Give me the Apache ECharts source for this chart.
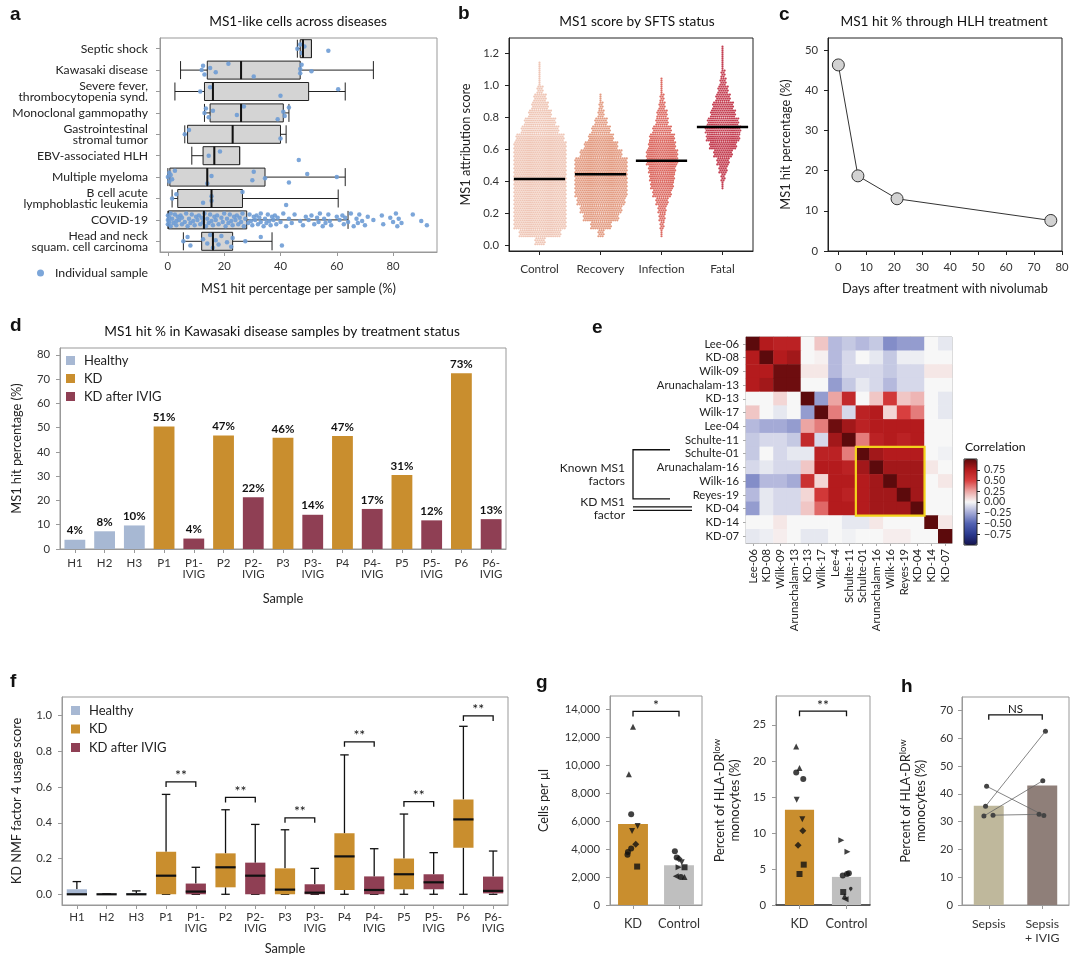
<!DOCTYPE html>
<html>
<head>
<meta charset="utf-8">
<script src="https://cdn.jsdelivr.net/npm/echarts@6/dist/echarts.min.js"></script>
<style>
html, body { margin: 0; background: #fff; }
#main { width: 1080px; height: 954px; }
</style>
</head>
<body>
<div id="main"></div>
<script>
// ---- panel a: MS1-like cells across diseases
const aDiseases = ['Septic shock', 'Kawasaki disease', 'Severe fever,\nthrombocytopenia synd.', 'Monoclonal gammopathy',
  'Gastrointestinal\nstromal tumor', 'EBV-associated HLH', 'Multiple myeloma', 'B cell acute\nlymphoblastic leukemia',
  'COVID-19', 'Head and neck\nsquam. cell carcinoma'];
// [low whisker, Q1, median, Q3, high whisker]
const aBoxes = [[46, 47, 48, 51, 51], [4.5, 14, 26, 47, 73], [2.5, 13, 16, 50, 63], [13, 15, 26, 41, 43],
  [6, 7, 23, 40, 42], [8.5, 12.5, 16.5, 25.5, 25.5], [0, 0.7, 14, 34.5, 63], [1.5, 3.5, 15.5, 26.5, 60.5],
  [0, 0.2, 12.8, 28, 64], [5.5, 12, 16, 23, 37]];
const aPoints = [
  [46, 47, 47.5, 48.5, 57],
  [12, 12.5, 13, 15, 17, 21.5, 30.5, 47, 47, 47.5, 51],
  [11.5, 15, 40, 60.5],
  [13, 13.5, 14.5, 16, 24.5, 27, 39, 41, 41.5, 43],
  [6, 7.5, 40],
  [14.5, 18.5, 46.5],
  [0, 0.5, 0.5, 1, 1.5, 2.5, 14, 15.5, 30, 30.5, 34.5, 43, 49.5, 60],
  [1.5, 3, 12.5, 15.5, 15.5, 26.5, 42],
  [0, 0, 0, 0.5, 0.5, 1, 1, 1.5, 2, 2.5, 3, 3, 3.5, 4, 4.5, 5, 5, 6, 6.5, 7, 7.5, 8, 8.5, 9, 9.5, 10, 10.5, 11,
   11.5, 12, 12.5, 13, 13.5, 14, 14.5, 15, 15.5, 16, 16.5, 17, 17.5, 18, 19, 19.5, 20, 20.5, 21, 21.5, 22, 22.5,
   23, 23.5, 24, 24.5, 25, 25.5, 26, 26.5, 27, 27.5, 28.5, 29, 29.5, 30, 30.5, 31, 31.5, 32, 32.5, 33, 33, 34,
   34.5, 35, 35.5, 36, 36.5, 37, 37.5, 38, 38.5, 39, 40, 41, 42, 43, 44, 45, 47, 48, 49, 50, 51, 52, 53, 53.5,
   54, 55, 55.5, 56, 57, 57.5, 58, 60, 61, 62, 62.5, 63, 64, 65, 66, 67, 67.5, 68, 69, 70, 71, 73, 76, 76.5, 79,
   80, 81, 81.5, 82, 83, 87, 90, 92],
  [5.5, 7, 8, 12.5, 14, 15, 16, 17, 18, 19, 21, 22.5, 23, 27.5, 33, 40.5]
];
const aJitter = [0, -0.2, 0.2, -0.1, 0.1, -0.3, 0.3, -0.05, 0.15, -0.25, 0.05, 0.25, -0.15];

// ---- panel b: MS1 score by SFTS status (dots per row in 0.05 bins starting at 0)
const bGroups = ['Control', 'Recovery', 'Infection', 'Fatal'];
const bBin = 0.05;
const bControl = [5, 20, 25, 25, 25, 25, 25, 25, 25, 25, 25, 25, 25, 23, 18, 15, 11, 8, 6, 3, 1, 1, 1];
const bRecovery = [0, 3, 10, 17, 20, 23, 25, 25, 25, 25, 25, 20, 16, 12, 9, 6, 3, 2, 1];
const bInfection = [0, 1, 2, 3, 4, 6, 9, 11, 12, 13, 15, 15, 13, 12, 9, 6, 5, 3, 2, 1, 1];
const bFatal = [0, 0, 0, 0, 0, 0, 0, 1, 2, 4, 6, 9, 13, 16, 17, 15, 12, 10, 7, 5, 3, 2, 1, 1, 1];
const bMedians = [0.415, 0.445, 0.53, 0.74];

// ---- panel c: MS1 hit % through HLH treatment
const cDays = [0, 7, 21, 76];
const cPct = [46.3, 18.7, 13, 7.6];

// ---- panel d / f: Kawasaki samples
const samples = ['H1', 'H2', 'H3', 'P1', 'P1-\nIVIG', 'P2', 'P2-\nIVIG', 'P3', 'P3-\nIVIG', 'P4', 'P4-\nIVIG',
  'P5', 'P5-\nIVIG', 'P6', 'P6-\nIVIG'];
const groupNames = ['Healthy', 'KD', 'KD after IVIG'];
const sampleGroup = [0, 0, 0, 1, 2, 1, 2, 1, 2, 1, 2, 1, 2, 1, 2];
const dValues = [3.8, 7.3, 9.7, 50.5, 4.3, 46.8, 21.3, 45.8, 14.1, 46.6, 16.5, 30.5, 11.8, 72.4, 12.3];
const dLabels = ['4%', '8%', '10%', '51%', '4%', '47%', '22%', '46%', '14%', '47%', '17%', '31%', '12%', '73%', '13%'];
const fBoxes = [[0, 0, 0, 0.028, 0.071], [0, 0, 0, 0.003, 0.003], [0, 0, 0, 0.006, 0.019],
  [0, 0, 0.104, 0.238, 0.559], [0, 0, 0.015, 0.06, 0.151], [0, 0.039, 0.151, 0.229, 0.473],
  [0, 0, 0.104, 0.177, 0.391], [0, 0, 0.026, 0.145, 0.361], [0, 0, 0.009, 0.056, 0.145],
  [0, 0.024, 0.212, 0.341, 0.78], [0, 0, 0.024, 0.1, 0.255], [0, 0.028, 0.112, 0.2, 0.449],
  [0, 0.028, 0.067, 0.112, 0.233], [0, 0.261, 0.419, 0.531, 0.94], [0, 0.005, 0.019, 0.099, 0.242]];
// [from sample, to sample, bracket height]
const fSig = [[3, 4, 0.629], [5, 6, 0.542], [7, 8, 0.428], [9, 10, 0.853], [11, 12, 0.518], [13, 14, 0.998]];

// ---- panel e: factor correlation
const eRows = ['Lee-06', 'KD-08', 'Wilk-09', 'Arunachalam-13', 'KD-13', 'Wilk-17', 'Lee-04', 'Schulte-11',
  'Schulte-01', 'Arunachalam-16', 'Wilk-16', 'Reyes-19', 'KD-04', 'KD-14', 'KD-07'];
const eCols = ['Lee-06', 'KD-08', 'Wilk-09', 'Arunachalam-13', 'KD-13', 'Wilk-17', 'Lee-4', 'Schulte-11',
  'Schulte-01', 'Arunachalam-16', 'Wilk-16', 'Reyes-19', 'KD-04', 'KD-14', 'KD-07'];
const eCorr = [
  [1.0, 0.75, 0.7, 0.7, 0.0, 0.15, -0.2, -0.15, -0.2, -0.15, -0.35, -0.3, -0.3, 0.0, -0.05],
  [0.75, 1.0, 0.75, 0.8, 0.0, 0.02, -0.2, -0.1, 0.0, -0.05, -0.15, -0.03, -0.03, 0.0, 0.0],
  [0.75, 0.75, 0.95, 0.95, 0.05, 0.05, -0.2, -0.1, -0.1, -0.1, -0.15, -0.1, -0.1, 0.05, 0.05],
  [0.75, 0.8, 0.95, 0.95, 0.0, 0.0, -0.3, -0.15, -0.05, -0.1, -0.2, -0.1, -0.1, 0.0, 0.0],
  [0.0, 0.0, 0.1, 0.0, 1.0, -0.3, 0.25, 0.65, 0.0, 0.15, 0.55, 0.15, 0.2, 0.0, -0.05],
  [0.15, 0.0, -0.05, 0.0, -0.3, 1.0, 0.35, -0.1, 0.7, 0.75, 0.1, 0.5, 0.35, 0.0, -0.05],
  [-0.2, -0.25, -0.25, -0.3, 0.25, 0.35, 0.95, 0.8, 0.7, 0.75, 0.75, 0.75, 0.75, 0.0, 0.0],
  [-0.15, -0.1, -0.1, -0.15, 0.65, -0.1, 0.8, 1.0, 0.35, 0.7, 0.75, 0.7, 0.75, 0.0, 0.0],
  [-0.15, 0.0, -0.1, -0.05, -0.05, 0.7, 0.7, 0.35, 1.0, 0.8, 0.75, 0.75, 0.75, 0.0, -0.02],
  [-0.1, -0.05, -0.1, -0.1, 0.15, 0.75, 0.75, 0.7, 0.8, 1.0, 0.8, 0.8, 0.8, 0.05, 0.0],
  [-0.35, -0.2, -0.2, -0.25, 0.6, 0.1, 0.75, 0.75, 0.75, 0.8, 1.0, 0.8, 0.8, 0.0, 0.05],
  [-0.2, -0.05, -0.1, -0.1, 0.1, 0.55, 0.75, 0.7, 0.75, 0.8, 0.8, 1.0, 0.8, 0.0, 0.0],
  [-0.3, -0.05, -0.1, -0.1, 0.15, 0.4, 0.75, 0.75, 0.75, 0.8, 0.8, 0.8, 1.0, 0.0, 0.0],
  [0.0, 0.0, 0.05, 0.0, 0.0, 0.0, 0.0, -0.05, -0.05, 0.05, 0.0, 0.0, 0.0, 1.0, 0.05],
  [-0.05, -0.03, 0.03, 0.0, -0.05, -0.05, 0.0, -0.02, 0.0, 0.0, 0.03, 0.03, 0.0, 0.0, 1.0]
];
const eBoxRows = [8, 12];
const eCbTicks = [-0.75, -0.5, -0.25, 0, 0.25, 0.5, 0.75];

// ---- panel g: MDSC counts and HLA-DR low monocytes
const gCats = ['KD', 'Control'];
const gCellBars = [5800, 2850];
const gCellKD = [12750, 9350, 6500, 5650, 5300, 4350, 4050, 3800, 3600, 2750];
const gCellKDShape = ['▲', '▲', '●', '▼', '▼', '◆', '●', '●', '●', '■'];
const gCellKDOff = [0, -0.09, -0.04, 0.1, -0.02, 0.06, -0.04, -0.11, -0.12, 0.09];
const gCellCtl = [3850, 3400, 3300, 3050, 2700, 2700, 2050, 2000, 2000];
const gCellCtlShape = ['●', '●', '◆', '▼', '▶', '■', '◀', '●', '▲'];
const gCellCtlOff = [-0.09, -0.05, 0, 0.06, -0.01, 0.12, -0.07, 0.04, 0.12];
const gPctBars = [13.2, 3.9];
const gPctKD = [22, 19, 18.4, 17.5, 14.6, 11.9, 10.3, 8.3, 5.6, 4.3];
const gPctKDShape = ['▲', '▲', '●', '●', '▼', '▼', '◆', '◆', '■', '■'];
const gPctKDOff = [-0.07, 0, -0.07, 0.08, -0.06, 0.06, 0.07, -0.03, 0.09, 0];
const gPctCtl = [9, 7.4, 4.1, 4.3, 4.4, 1.8, 1.8, 1.2, 0.8];
const gPctCtlShape = ['▶', '▶', '●', '●', '●', '■', '✱', '▲', '◀'];
const gPctCtlOff = [-0.11, 0.02, -0.08, 0.01, 0.05, -0.07, 0.09, -0.04, -0.02];

// ---- panel h: sepsis +/- IVIG
const hCats = ['Sepsis', 'Sepsis\n+ IVIG'];
const hBars = [35.7, 43.0];
const hBefore = [42.7, 35.5, 32.0, 32.3];
const hAfter = [32.2, 62.5, 44.7, 32.6];
const hBeforeOff = [-0.04, -0.06, -0.09, 0.08];
const hAfterOff = [0.03, 0.06, 0.01, -0.06];

// ---------------------------------------------------------------
const FONT = 'Lato, "Noto Sans", sans-serif';
const C_HEALTHY = '#a7b8d3', C_KD = '#c98e2e', C_IVIG = '#8f3f54';
const groupColors = [C_HEALTHY, C_KD, C_IVIG];
const bColors = ['#efc6b6', '#e39b81', '#dc6961', '#c43e51'];
const TICK_FS = 11.3, NAME_FS = 12.8, TITLE_FS = 13.7, LEG_FS = 13;

const grid = [], xAxis = [], yAxis = [], series = [], title = [], legend = [];

function mix(base, extra) {
  const o = Object.assign({}, base);
  for (const k in extra) {
    const v = extra[k];
    if (v && typeof v === 'object' && !Array.isArray(v) && base[k] && typeof base[k] === 'object') {
      o[k] = Object.assign({}, base[k], v);
    } else {
      o[k] = v;
    }
  }
  return o;
}
function addGrid(left, top, width, height, border) {
  grid.push({ left, top, width, height, show: true, borderColor: border, borderWidth: 1,
    backgroundColor: 'transparent', containLabel: false, outerBoundsMode: 'none' });
  return grid.length - 1;
}
function axisBase(gi, type, color) {
  return {
    gridIndex: gi, type,
    axisLine: { show: true, onZero: false, lineStyle: { color, width: 1 } },
    axisTick: { show: true, length: 4, lineStyle: { color } },
    axisLabel: { color: '#333', fontSize: TICK_FS, fontFamily: FONT, hideOverlap: false },
    splitLine: { show: false },
    nameLocation: 'middle',
    nameTextStyle: { color: '#222', fontSize: NAME_FS, fontFamily: FONT }
  };
}
function addX(gi, type, extra, color) { xAxis.push(mix(axisBase(gi, type, color), extra)); return xAxis.length - 1; }
function addY(gi, type, extra, color) { yAxis.push(mix(axisBase(gi, type, color), extra)); return yAxis.length - 1; }
function hiddenX(gi, min, max) { xAxis.push({ gridIndex: gi, type: 'value', min, max, show: false }); return xAxis.length - 1; }
function hiddenY(gi, min, max, inverse) { yAxis.push({ gridIndex: gi, type: 'value', min, max, inverse: !!inverse, show: false }); return yAxis.length - 1; }
function addText(text, left, top, size, align, bold) {
  title.push({ text, left, top, textAlign: align || 'left', padding: 0,
    textStyle: { fontFamily: bold ? '"Liberation Sans", Arial, sans-serif' : FONT, fontSize: size,
      fontWeight: bold ? 'bold' : 'normal', color: '#111' } });
}
const shapeMap = {
  '▲': ['triangle', 0], '▼': ['triangle', 180], '▶': ['triangle', -90], '◀': ['triangle', 90],
  '●': ['circle', 0], '◆': ['diamond', 0], '■': ['rect', 0], '✱': ['pin', 0]
};
function shapedPoints(values, shapes, offs, cat) {
  return values.map((v, i) => ({ value: [cat + offs[i], v], symbol: shapeMap[shapes[i]][0],
    symbolRotate: shapeMap[shapes[i]][1], symbolSize: shapes[i] === '◆' ? 7 : 6 }));
}
function sigRender(texts, leg, fs) {
  return function (params, api) {
    const p1 = api.coord([api.value(0), api.value(2)]);
    const p2 = api.coord([api.value(1), api.value(2)]);
    return { type: 'group', children: [
      { type: 'polyline', shape: { points: [[p1[0], p1[1] + leg], [p1[0], p1[1]], [p2[0], p2[1]], [p2[0], p2[1] + leg]] },
        style: { stroke: '#111', lineWidth: 1.3, fill: 'none' } },
      { type: 'text', style: { text: texts[params.dataIndex], x: (p1[0] + p2[0]) / 2, y: p1[1] + 1,
        align: 'center', verticalAlign: 'bottom', fontSize: fs, fontFamily: FONT, fill: '#111' } }
    ] };
  };
}

// ---------------- a ----------------
const ga = addGrid(160, 38, 277, 214, '#999');
const aX = addX(ga, 'value', { min: -2.8, max: 95.6,
  axisLabel: { customValues: [0, 20, 40, 60, 80], margin: 9 }, axisTick: { customValues: [0, 20, 40, 60, 80] },
  name: 'MS1 hit percentage per sample (%)', nameGap: 30 }, '#999');
const aY = addY(ga, 'category', { data: aDiseases, inverse: true,
  axisTick: { alignWithLabel: true, interval: 0 },
  axisLabel: { interval: 0, fontSize: 12.2, lineHeight: 11, margin: 12, color: '#222' } }, '#999');
const aYv = hiddenY(ga, -0.5, 9.5, true);
series.push({ type: 'boxplot', xAxisIndex: aX, yAxisIndex: aY, data: aBoxes, boxWidth: [18, 18], silent: true,
  itemStyle: { color: '#d4d4d4', borderColor: '#222', borderWidth: 1 }, z: 2 });
const aPtData = [];
aPoints.forEach((arr, i) => arr.forEach((v, j) => aPtData.push([v, i + aJitter[j % aJitter.length]])));
series.push({ type: 'scatter', name: 'Individual sample', xAxisIndex: aX, yAxisIndex: aYv, data: aPtData,
  symbolSize: 4.5, itemStyle: { color: '#6e9cd5', opacity: 0.9 }, z: 3 });
series.push({ type: 'custom', xAxisIndex: aX, yAxisIndex: aYv, z: 4, silent: true,
  data: aBoxes.map((b, i) => [b[2], i]),
  renderItem: (p, api) => {
    const s = api.coord([api.value(0), api.value(1) - 0.42]);
    const e = api.coord([api.value(0), api.value(1) + 0.42]);
    return { type: 'line', shape: { x1: s[0], y1: s[1], x2: e[0], y2: e[1] }, style: { stroke: '#111', lineWidth: 2 } };
  } });
legend.push({ data: ['Individual sample'], left: 37, top: 267, icon: 'circle', itemWidth: 7, itemHeight: 7,
  padding: 0, textStyle: { fontSize: 12.3, fontFamily: FONT, color: '#222', padding: [0, 0, 0, 6] } });

// ---------------- b ----------------
const gb = addGrid(509, 38, 244, 213, '#222');
const bX = addX(gb, 'category', { data: bGroups, axisTick: { alignWithLabel: true, interval: 0 },
  axisLabel: { margin: 12, fontSize: 11.8, interval: 0 } }, '#222');
const bTicks = [0, 0.2, 0.4, 0.6, 0.8, 1.0, 1.2];
const bY = addY(gb, 'value', { min: -0.036, max: 1.298,
  axisLabel: { customValues: bTicks, formatter: v => v.toFixed(1), margin: 10 }, axisTick: { customValues: bTicks },
  name: 'MS1 attribution score', nameGap: 37 }, '#222');
[bControl, bRecovery, bInfection, bFatal].forEach((counts, g) => {
  const color = bColors[g];
  series.push({ type: 'custom', xAxisIndex: bX, yAxisIndex: bY, silent: true, z: 2,
    data: counts.map((n, k) => [g, k * bBin, n]).filter(d => d[2] > 0),
    renderItem: (p, api) => {
      const gi = api.value(0), y0 = api.value(1), n = api.value(2);
      const kids = [];
      for (let r = 0; r < 4; r++) {
        const c = api.coord([gi, y0 + (r + 0.5) * bBin / 4]);
        const shift = (r % 2 && n > 1) ? 1.05 : 0;
        for (let k = 0; k < n; k++) {
          kids.push({ type: 'circle', shape: { cx: c[0] + (k - (n - 1) / 2) * 2.1 + shift, cy: c[1], r: 1.1 },
            style: { fill: color } });
        }
      }
      return { type: 'group', children: kids };
    } });
});
series.push({ type: 'custom', xAxisIndex: bX, yAxisIndex: bY, silent: true, z: 5,
  data: bMedians.map((m, i) => [i, m]),
  renderItem: (p, api) => {
    const c = api.coord([api.value(0), api.value(1)]);
    const w = api.size([1, 0])[0] * 0.84;
    return { type: 'line', shape: { x1: c[0] - w / 2, y1: c[1], x2: c[0] + w / 2, y2: c[1] },
      style: { stroke: '#000', lineWidth: 2.5 } };
  } });

// ---------------- c ----------------
const gc = addGrid(828, 38, 234, 213, '#222');
const cTx = [0, 10, 20, 30, 40, 50, 60, 70, 80];
const cTy = [0, 10, 20, 30, 40, 50];
const cX = addX(gc, 'value', { min: -3.7, max: 80, axisLabel: { customValues: cTx, margin: 11 },
  axisTick: { customValues: cTx }, name: 'Days after treatment with nivolumab', nameGap: 31 }, '#222');
const cY = addY(gc, 'value', { min: 0, max: 53, axisLabel: { customValues: cTy, margin: 10 },
  axisTick: { customValues: cTy }, name: 'MS1 hit percentage (%)', nameGap: 36 }, '#222');
series.push({ type: 'line', xAxisIndex: cX, yAxisIndex: cY, data: cDays.map((d, i) => [d, cPct[i]]),
  symbol: 'circle', symbolSize: 12, lineStyle: { color: '#333', width: 1 },
  itemStyle: { color: '#d2d2d2', borderColor: '#333', borderWidth: 1 }, z: 3 });

// ---------------- d ----------------
const gd = addGrid(60, 348, 446, 201, '#999');
const dTicks = [0, 10, 20, 30, 40, 50, 60, 70, 80];
const dX = addX(gd, 'category', { data: samples, axisTick: { alignWithLabel: true, interval: 0 },
  axisLabel: { interval: 0, margin: 9, fontSize: 11.5, lineHeight: 11 }, name: 'Sample', nameGap: 43 }, '#999');
const dY = addY(gd, 'value', { min: 0, max: 82.8, axisLabel: { customValues: dTicks, margin: 10 },
  axisTick: { customValues: dTicks }, name: 'MS1 hit percentage (%)', nameGap: 37 }, '#999');
groupNames.forEach((name, g) => {
  series.push({ type: 'bar', name, xAxisIndex: dX, yAxisIndex: dY, stack: 'd', barWidth: '70%',
    data: dValues.map((v, i) => sampleGroup[i] === g ? v : null), itemStyle: { color: groupColors[g] },
    label: { show: true, position: 'top', distance: 3, formatter: p => dLabels[p.dataIndex],
      fontWeight: 'bold', fontSize: 11.5, fontFamily: FONT, color: '#111' } });
});
legend.push({ data: groupNames, orient: 'vertical', left: 66, top: 354, icon: 'rect', itemWidth: 9, itemHeight: 9,
  itemGap: 5, padding: 0, textStyle: { fontSize: LEG_FS, fontFamily: FONT, color: '#222', padding: [0, 0, 0, 4] } });

// ---------------- e ----------------
const ge = addGrid(746, 337, 206, 206, '#aaa');
const eX = addX(ge, 'category', { data: eCols, axisTick: { alignWithLabel: true, interval: 0, length: 3 },
  axisLabel: { interval: 0, rotate: 90, margin: 6, fontSize: 11.3, color: '#222' } }, '#aaa');
const eY = addY(ge, 'category', { data: eRows, inverse: true, axisTick: { alignWithLabel: true, interval: 0, length: 3 },
  axisLabel: { interval: 0, margin: 7, fontSize: 11.3, color: '#222' } }, '#aaa');
const heatData = [];
eCorr.forEach((row, r) => row.forEach((v, c) => heatData.push([c, r, v])));
const heatIdx = series.length;
series.push({ type: 'heatmap', xAxisIndex: eX, yAxisIndex: eY, data: heatData, silent: true,
  itemStyle: { borderWidth: 0 } });
series.push({ type: 'custom', xAxisIndex: eX, yAxisIndex: eY, silent: true, z: 5, data: [eBoxRows],
  renderItem: (p, api) => {
    const a = api.coord([api.value(0), api.value(0)]);
    const b = api.coord([api.value(1), api.value(1)]);
    const s = api.size([1, 1]);
    return { type: 'rect', shape: { x: a[0] - s[0] / 2, y: a[1] - s[1] / 2, width: b[0] - a[0] + s[0], height: b[1] - a[1] + s[1] },
      style: { stroke: '#f3d31c', lineWidth: 2.2, fill: 'none' } };
  } });
const eBrackets = [[8, 11], [12, 12]];
const eBracketText = ['Known MS1\nfactors', 'KD MS1\nfactor'];
series.push({ type: 'custom', xAxisIndex: eX, yAxisIndex: eY, silent: true, clip: false, data: eBrackets,
  renderItem: (p, api) => {
    const s = api.size([1, 1]);
    const left = api.coord([0, 0])[0] - s[0] / 2;
    const xl = left - 113;
    const y1 = api.coord([0, api.value(0)])[1];
    const y2 = api.coord([0, api.value(1)])[1];
    const kids = [];
    if (p.dataIndex === 0) {
      kids.push({ type: 'polyline', shape: { points: [[left - 76, y1 - 4], [xl, y1 - 4], [xl, y2 + 4], [left - 76, y2 + 4]] },
        style: { stroke: '#111', lineWidth: 1.3, fill: 'none' } });
    } else {
      kids.push({ type: 'line', shape: { x1: xl, y1: y1 - 1.7, x2: left - 54, y2: y1 - 1.7 }, style: { stroke: '#111', lineWidth: 1.2 } });
      kids.push({ type: 'line', shape: { x1: xl, y1: y1 + 1.7, x2: left - 54, y2: y1 + 1.7 }, style: { stroke: '#111', lineWidth: 1.2 } });
    }
    kids.push({ type: 'text', style: { text: eBracketText[p.dataIndex], x: xl - 8, y: (y1 + y2) / 2, align: 'right',
      verticalAlign: 'middle', fontSize: 12, lineHeight: 13, fontFamily: FONT, fill: '#222' } });
    return { type: 'group', children: kids };
  } });
// colour bar: ticks from an axis, labels drawn at the same axis positions
const gcb = addGrid(964, 459, 13, 86, '#222');
grid[gcb].z = 10;
const cbX = addX(gcb, 'category', { data: [''], show: false }, '#222');
const cbY = addY(gcb, 'value', { min: -1, max: 1, position: 'right', axisLine: { show: false },
  axisLabel: { show: false },
  axisTick: { customValues: eCbTicks, length: 3, lineStyle: { color: '#222' } } }, '#222');
series.push({ type: 'custom', xAxisIndex: cbX, yAxisIndex: cbY, silent: true, clip: false, z: 10,
  data: eCbTicks.map(v => [0, v]),
  renderItem: (p, api) => {
    const v = api.value(1);
    const c = api.coord([0, v]);
    return { type: 'text', style: { text: (v < 0 ? '\u2212' : '') + Math.abs(v).toFixed(2),
      x: c[0] + 6.5 + 7, y: c[1], align: 'left', verticalAlign: 'middle', fontSize: 10.8, fontFamily: FONT, fill: '#333' } };
  } });

// ---------------- f ----------------
const gf = addGrid(62, 697, 446, 208, '#999');
const fTicks = [0, 0.2, 0.4, 0.6, 0.8, 1.0];
const fX = addX(gf, 'category', { data: samples, axisTick: { alignWithLabel: true, interval: 0 },
  axisLabel: { interval: 0, margin: 7, fontSize: 11.5, lineHeight: 11 }, name: 'Sample', nameGap: 37 }, '#999');
const fY = addY(gf, 'value', { min: -0.06, max: 1.104,
  axisLabel: { customValues: fTicks, formatter: v => v.toFixed(1), margin: 10 }, axisTick: { customValues: fTicks },
  name: 'KD NMF factor 4 usage score', nameGap: 39 }, '#999');
groupNames.forEach((name, g) => {
  const color = groupColors[g];
  series.push({ type: 'custom', name, xAxisIndex: fX, yAxisIndex: fY, silent: true, itemStyle: { color },
    encode: { x: 0, y: [1, 2, 3, 4, 5] },
    data: fBoxes.map((b, i) => [i].concat(b)).filter(d => sampleGroup[d[0]] === g),
    renderItem: (p, api) => {
      const i = api.value(0);
      const v = [1, 2, 3, 4, 5].map(d => api.value(d));
      const cx = api.coord([i, 0])[0];
      const bw = api.size([1, 0])[0] * 0.68, cap = bw * 0.42;
      const y = val => api.coord([i, val])[1];
      const line = (x1, y1, x2, y2, w) => ({ type: 'line', shape: { x1, y1, x2, y2 }, style: { stroke: '#111', lineWidth: w || 1.3 } });
      return { type: 'group', children: [
        line(cx, y(v[0]), cx, y(v[1])), line(cx, y(v[3]), cx, y(v[4])),
        line(cx - cap / 2, y(v[0]), cx + cap / 2, y(v[0])), line(cx - cap / 2, y(v[4]), cx + cap / 2, y(v[4])),
        { type: 'rect', shape: { x: cx - bw / 2, y: y(v[3]), width: bw, height: Math.max(y(v[1]) - y(v[3]), 0) }, style: { fill: color } },
        line(cx - bw / 2, y(v[2]), cx + bw / 2, y(v[2]), 2.2)
      ] };
    } });
});
series.push({ type: 'custom', xAxisIndex: fX, yAxisIndex: fY, silent: true, clip: false, z: 5,
  encode: { x: [0, 1], y: 2 }, data: fSig, renderItem: sigRender(fSig.map(() => '**'), 5, 14) });
legend.push({ data: groupNames, orient: 'vertical', left: 71, top: 704, icon: 'rect', itemWidth: 9, itemHeight: 9,
  itemGap: 5.5, padding: 0, textStyle: { fontSize: LEG_FS, fontFamily: FONT, color: '#222', padding: [0, 0, 0, 4] } });

// ---------------- g (left) ----------------
const gg1 = addGrid(610, 696, 92, 209, '#999');
const gTicks1 = [0, 2000, 4000, 6000, 8000, 10000, 12000, 14000];
const g1X = addX(gg1, 'category', { data: gCats, axisTick: { alignWithLabel: true, interval: 0 },
  axisLabel: { interval: 0, margin: 12, fontSize: 12.8 } }, '#999');
const g1Xv = hiddenX(gg1, -0.5, 1.5);
const g1Y = addY(gg1, 'value', { min: 0, max: 14950,
  axisLabel: { customValues: gTicks1, formatter: v => v.toLocaleString('en-US'), margin: 10 },
  axisTick: { customValues: gTicks1 }, name: 'Cells per \u00b5l', nameGap: 60 }, '#999');
series.push({ type: 'bar', xAxisIndex: g1X, yAxisIndex: g1Y, barWidth: '65%', silent: true,
  data: gCellBars.map((v, i) => ({ value: v, itemStyle: { color: i === 0 ? C_KD : '#bfbfbf' } })) });
series.push({ type: 'scatter', xAxisIndex: g1Xv, yAxisIndex: g1Y, silent: true, z: 4, itemStyle: { color: '#111' },
  data: shapedPoints(gCellKD, gCellKDShape, gCellKDOff, 0).concat(shapedPoints(gCellCtl, gCellCtlShape, gCellCtlOff, 1)) });
series.push({ type: 'custom', xAxisIndex: g1Xv, yAxisIndex: g1Y, silent: true, clip: false, z: 5,
  encode: { x: [0, 1], y: 2 }, data: [[0, 1, 13850]], renderItem: sigRender(['*'], 5, 14) });

// ---------------- g (right) ----------------
const gg2 = addGrid(776, 696, 94, 209, '#999');
const gTicks2 = [0, 5, 10, 15, 20, 25];
const g2X = addX(gg2, 'category', { data: gCats, axisTick: { alignWithLabel: true, interval: 0 },
  axisLine: { lineStyle: { color: '#333', width: 1.5 } }, axisLabel: { interval: 0, margin: 12, fontSize: 12.8 } }, '#999');
const g2Xv = hiddenX(gg2, -0.5, 1.5);
const g2Y = addY(gg2, 'value', { min: 0, max: 29, axisLabel: { customValues: gTicks2, margin: 10 },
  axisTick: { customValues: gTicks2 }, name: '{t|Percent of HLA-DR}{s|low}\n{t|monocytes (%)}', nameGap: 34,
  nameTextStyle: { lineHeight: 15, rich: { t: { fontSize: NAME_FS, fontFamily: FONT, color: '#222' },
    s: { fontSize: 9.5, fontFamily: FONT, color: '#222', verticalAlign: 'top', padding: [0, 0, 6, 0] } } } }, '#999');
series.push({ type: 'bar', xAxisIndex: g2X, yAxisIndex: g2Y, barWidth: '62%', silent: true,
  data: gPctBars.map((v, i) => ({ value: v, itemStyle: { color: i === 0 ? C_KD : '#bfbfbf' } })) });
series.push({ type: 'scatter', xAxisIndex: g2Xv, yAxisIndex: g2Y, silent: true, z: 4, itemStyle: { color: '#111' },
  data: shapedPoints(gPctKD, gPctKDShape, gPctKDOff, 0).concat(shapedPoints(gPctCtl, gPctCtlShape, gPctCtlOff, 1)) });
series.push({ type: 'custom', xAxisIndex: g2Xv, yAxisIndex: g2Y, silent: true, clip: false, z: 5,
  encode: { x: [0, 1], y: 2 }, data: [[0, 1, 26.9]], renderItem: sigRender(['**'], 5, 14) });

// ---------------- h ----------------
const gh = addGrid(962, 697, 107, 208, '#999');
const hTicks = [0, 10, 20, 30, 40, 50, 60, 70];
const hX = addX(gh, 'category', { data: hCats, axisTick: { alignWithLabel: true, interval: 0 },
  axisLabel: { interval: 0, margin: 12, fontSize: 12.3, lineHeight: 14 } }, '#999');
const hXv = hiddenX(gh, -0.5, 1.5);
const hY = addY(gh, 'value', { min: 0, max: 74.8, axisLabel: { customValues: hTicks, margin: 9 },
  axisTick: { customValues: hTicks }, name: '{t|Percent of HLA-DR}{s|low}\n{t|monocytes (%)}', nameGap: 34,
  nameTextStyle: { lineHeight: 15, rich: { t: { fontSize: NAME_FS, fontFamily: FONT, color: '#222' },
    s: { fontSize: 9.5, fontFamily: FONT, color: '#222', verticalAlign: 'top', padding: [0, 0, 6, 0] } } } }, '#999');
series.push({ type: 'bar', xAxisIndex: hX, yAxisIndex: hY, barWidth: '56%', silent: true,
  data: hBars.map((v, i) => ({ value: v, itemStyle: { color: i === 0 ? '#bfb89c' : '#8f7f79' } })) });
hBefore.forEach((v, i) => {
  series.push({ type: 'line', xAxisIndex: hXv, yAxisIndex: hY, silent: true, z: 4, symbol: 'circle', symbolSize: 5,
    data: [[0 + hBeforeOff[i], v], [1 + hAfterOff[i], hAfter[i]]],
    lineStyle: { color: '#666', width: 0.8 }, itemStyle: { color: '#444' } });
});
series.push({ type: 'custom', xAxisIndex: hXv, yAxisIndex: hY, silent: true, clip: false, z: 5,
  encode: { x: [0, 1], y: 2 }, data: [[0, 1, 68.4]], renderItem: sigRender(['NS'], 5, 11.5) });

// ---------------- titles and panel letters ----------------
addText('a', 10, 5, 19, 'left', true);
addText('b', 458, 4, 19, 'left', true);
addText('c', 779, 5, 19, 'left', true);
addText('d', 10, 316, 19, 'left', true);
addText('e', 592, 318, 19, 'left', true);
addText('f', 10, 672, 19, 'left', true);
addText('g', 536, 673, 19, 'left', true);
addText('h', 901, 677, 19, 'left', true);
addText('MS1-like cells across diseases', 298, 15, TITLE_FS, 'center');
addText('MS1 score by SFTS status', 637, 15, TITLE_FS, 'center');
addText('MS1 hit % through HLH treatment', 944, 15, TITLE_FS, 'center');
addText('MS1 hit % in Kawasaki disease samples by treatment status', 282, 325, TITLE_FS, 'center');
addText('Correlation', 965, 441, 12.3, 'left');

const chart = echarts.init(document.getElementById('main'), null, { renderer: 'canvas' });
chart.setOption({
  animation: false,
  backgroundColor: '#fff',
  textStyle: { fontFamily: FONT },
  title, legend, grid, xAxis, yAxis, series,
  visualMap: [{
    type: 'continuous', min: -1, max: 1, seriesIndex: heatIdx, calculable: false, orient: 'vertical',
    left: 964, top: 459, itemWidth: 13, itemHeight: 86, padding: 0, text: null, showLabel: false,
    inRange: { color: ['#14144f', '#2b3a8f', '#5262b2', '#a4aad6', '#f7f7f7', '#eca5a3', '#d83f3f', '#b41b1d', '#5c0a0c'] }
  }],
  tooltip: { show: false }
});
</script>
</body>
</html>
